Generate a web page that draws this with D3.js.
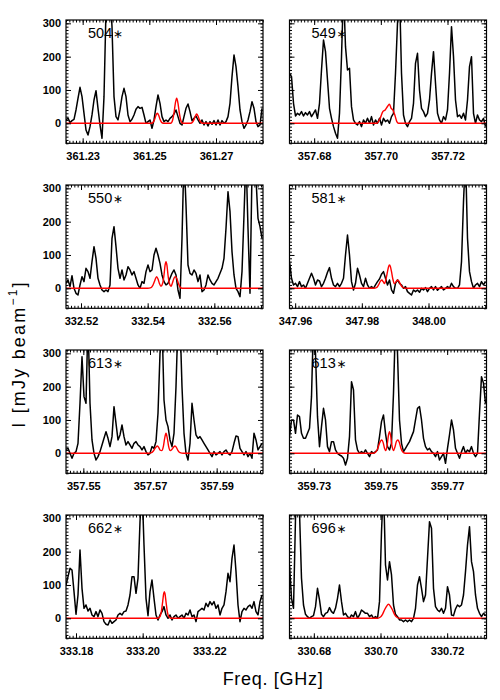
<!DOCTYPE html>
<html><head><meta charset="utf-8">
<script src="https://cdn.jsdelivr.net/npm/d3@7/dist/d3.min.js"></script>
<style>body{margin:0;background:#fff}</style>
</head><body><svg id="c" width="500" height="700"></svg>
<script>
// ---------- DATA ----------
const panelIds = ["504","549","550","581","613","613","662","696"];
const startFreq = [361.2250, 357.6726, 332.5155, 347.9583, 357.5448, 359.7227, 333.1770, 330.6727];
const chanWidth = 0.0006;      // GHz per channel
const spanGHz = 0.0591;        // frequency window of each panel
const yDomain = [-60, 310];
const yTicks = [0, 100, 200, 300];
const xTicks = [
  [361.23, 361.25, 361.27],
  [357.68, 357.70, 357.72],
  [332.52, 332.54, 332.56],
  [347.96, 347.98, 348.00],
  [357.55, 357.57, 357.59],
  [359.73, 359.75, 359.77],
  [333.18, 333.20, 333.22],
  [330.68, 330.70, 330.72]
];

const spec504 = [10,16,2,8,12,40,75,108,80,30,-20,-35,-10,25,70,98,45,-5,-45,80,340,400,400,290,80,20,10,40,80,105,80,25,5,12,25,42,50,45,48,25,0,5,10,-15,10,50,85,60,20,5,10,5,15,20,28,40,20,0,-5,20,45,58,35,8,15,22,10,0,10,-5,5,-8,5,-3,8,-5,10,-5,8,0,5,20,60,140,205,170,110,40,5,-15,-5,10,35,65,45,5,-10,-5,45];
const spec549 = [150,140,60,22,30,25,35,22,32,25,35,20,30,40,15,60,160,250,215,130,45,15,-10,-30,-45,30,200,400,230,160,165,50,10,0,-5,5,-10,10,0,15,0,20,-5,10,0,15,-5,15,5,10,0,20,30,150,300,400,150,25,0,-10,5,15,60,180,210,100,45,35,20,30,70,150,215,120,30,10,0,20,10,40,150,290,200,70,20,25,15,30,10,70,170,200,30,0,25,10,5,15,-10];
const spec550 = [15,25,5,38,0,-15,-20,10,35,20,60,50,30,80,125,90,30,10,-5,-10,-5,-10,10,150,185,125,60,30,55,25,40,65,55,40,50,30,10,0,20,15,50,70,50,55,100,120,100,75,40,20,10,15,30,45,55,40,-5,-30,150,400,250,70,45,40,55,45,20,40,-10,-5,10,40,25,15,10,20,30,45,60,90,180,290,230,110,40,0,-10,-25,50,220,400,180,-15,350,400,330,210,185,150];
const spec581 = [80,30,10,15,5,20,5,10,0,15,30,45,30,10,25,22,5,15,30,48,62,30,10,5,15,5,15,30,100,160,100,20,-5,15,60,40,15,5,30,10,0,5,0,10,20,28,42,50,30,10,25,-5,-15,15,25,15,10,0,5,-10,-15,-20,-5,-10,-5,-12,0,-5,2,-10,0,5,-5,5,-6,0,5,-5,0,5,0,15,5,0,0,10,80,260,400,150,50,20,0,10,15,5,20,10,20];
const spec613a = [12,15,0,-15,0,5,30,150,290,170,150,400,150,40,0,-20,-10,5,25,45,65,45,20,50,140,90,40,55,85,50,25,35,25,15,30,35,25,20,10,20,5,-5,0,20,15,35,120,300,400,160,100,80,40,20,60,200,400,400,200,60,0,-20,30,150,100,55,45,50,40,30,20,10,0,-10,5,-5,0,5,-5,5,10,0,-5,5,30,52,50,15,5,-5,5,-10,0,-15,60,40,10,20,30];
const spec613b = [50,100,100,60,115,110,60,45,45,60,75,170,400,300,110,20,80,135,100,20,5,35,35,10,0,-5,-8,-15,-35,-15,50,215,190,40,10,0,5,0,10,0,-10,5,0,5,10,50,95,115,60,20,10,30,180,400,300,100,30,5,15,25,35,50,65,100,135,140,100,45,20,10,15,5,0,-10,5,-20,-10,0,-30,15,55,100,70,15,0,-15,5,20,0,10,5,20,0,-10,0,120,230,210,150];
const spec662 = [100,125,150,145,80,12,70,205,90,30,40,22,30,10,5,20,5,25,15,-10,-18,-20,-5,-15,-10,-5,10,15,10,20,22,40,70,125,125,75,120,290,400,220,60,8,80,115,60,10,-5,10,20,35,10,0,10,-5,5,10,0,5,10,0,15,10,25,5,10,-10,20,25,30,25,45,35,50,40,50,30,40,10,30,40,80,135,110,180,220,140,40,-10,20,30,25,35,40,30,50,20,10,50,70];
const spec696 = [160,60,30,300,400,320,120,40,12,5,0,5,8,35,90,55,12,5,15,18,32,20,15,30,60,100,50,10,15,5,0,10,5,20,0,10,25,20,15,15,5,10,0,5,0,50,260,400,160,115,170,130,40,12,5,-5,-5,-10,-5,-10,-5,-10,0,30,100,125,90,50,70,180,290,270,90,35,25,20,30,15,30,95,70,10,8,28,40,35,40,70,140,220,275,170,140,70,30,15,5,15,10];

// red model profiles [freq GHz, mJy/beam]; zero elsewhere
const model504 = [[361.2506,0],[361.2512,4],[361.2516,12],[361.2520,24],[361.2524,30],[361.2528,24],[361.2532,12],[361.2536,4],[361.2542,0],
  [361.2564,0],[361.2570,10],[361.2574,31],[361.2578,60],[361.2582,75],[361.2586,60],[361.2590,31],[361.2594,10],[361.2600,0],
  [361.2624,0],[361.2630,4],[361.2634,11],[361.2638,22],[361.2642,28],[361.2646,22],[361.2650,11],[361.2654,4],[361.2660,0]];
const model549 = [[357.6988,0],[357.6998,15],[357.7006,35],[357.7013,40],[357.7021,52],[357.7026,57],[357.7031,45],[357.7036,40],[357.7042,25],[357.7048,5],[357.7053,0]];
const model550 = [[332.5400,0],[332.5410,2],[332.5415,8],[332.5420,20],[332.5424,30],[332.5427,35],[332.5431,28],[332.5435,15],[332.5440,6],[332.5445,15],[332.5449,40],[332.5452,68],[332.5455,80],[332.5458,68],[332.5461,40],[332.5465,15],[332.5470,6],[332.5474,15],[332.5478,28],[332.5481,34],[332.5484,35],[332.5488,28],[332.5492,15],[332.5497,4],[332.5503,0]];
const model581 = [[347.9835,0],[347.9845,3],[347.9850,10],[347.9855,20],[347.9860,25],[347.9864,20],[347.9868,14],[347.9873,30],[347.9877,50],[347.9880,64],[347.9883,70],[347.9886,64],[347.9889,50],[347.9893,28],[347.9898,14],[347.9903,20],[347.9908,25],[347.9912,20],[347.9917,10],[347.9922,3],[347.9930,0]];
const model613a = [[357.5695,0],[357.5705,2],[357.5710,7],[357.5715,15],[357.5719,20],[357.5722,22],[357.5726,18],[357.5730,10],[357.5735,8],[357.5740,20],[357.5744,45],[357.5748,60],[357.5752,45],[357.5756,20],[357.5761,8],[357.5766,12],[357.5771,19],[357.5775,22],[357.5779,18],[357.5784,8],[357.5790,2],[357.5800,0]];
const model613b = [[359.7475,0],[359.7485,3],[359.7492,15],[359.7497,30],[359.7501,38],[359.7504,40],[359.7508,32],[359.7512,15],[359.7516,8],[359.7520,25],[359.7524,55],[359.7527,65],[359.7530,55],[359.7534,25],[359.7539,8],[359.7543,18],[359.7548,36],[359.7552,40],[359.7556,34],[359.7561,16],[359.7567,4],[359.7575,0]];
const model662 = [[333.2045,0],[333.2052,5],[333.2056,20],[333.2060,50],[333.2063,74],[333.2065,80],[333.2067,74],[333.2070,50],[333.2074,20],[333.2078,5],[333.2085,0]];
const model696 = [[330.6990,0],[330.7000,4],[330.7006,12],[330.7012,25],[330.7018,36],[330.7024,42],[330.7030,36],[330.7036,25],[330.7042,12],[330.7048,4],[330.7058,0]];

const specs = [spec504, spec549, spec550, spec581, spec613a, spec613b, spec662, spec696];
const models = [model504, model549, model550, model581, model613a, model613b, model662, model696];

// ---------- LAYOUT ----------
const W = 197, H = 123.3;
const colX = [66, 289.5], rowY = [20, 185, 350, 515];
const majorLen = 5, minorLen = 2.5;
const tickFont = '"Liberation Sans", Arial, Helvetica, sans-serif';

const svg = d3.select("#c");

function styleAxis(sel) {
  sel.select(".domain").remove();
  sel.selectAll("line").attr("stroke", "#000").attr("stroke-width", 1);
  sel.selectAll("text").attr("font-family", tickFont).attr("font-weight", "bold")
     .attr("font-size", 11).attr("fill", "#000");
}

panelIds.forEach((id, i) => {
  const c = i % 2, r = Math.floor(i / 2);
  const g = svg.append("g").attr("transform", `translate(${colX[c]},${rowY[r]})`);
  const x = d3.scaleLinear().domain([startFreq[i], startFreq[i] + spanGHz]).range([0, W]);
  const y = d3.scaleLinear().domain(yDomain).range([H, 0]);

  const cid = "clip" + i;
  g.append("clipPath").attr("id", cid).append("rect").attr("width", W).attr("height", H);

  const line = d3.line().x(d => x(d[0])).y(d => y(d[1]));
  const pts = specs[i].map((v, k) => [startFreq[i] + k * chanWidth, v]);
  g.append("path").datum(pts).attr("clip-path", `url(#${cid})`)
    .attr("d", line).attr("fill", "none").attr("stroke", "#000")
    .attr("stroke-width", 1.5).attr("stroke-linejoin", "round");

  const mod = [[x.domain()[0], 0], ...models[i], [x.domain()[1], 0]];
  g.append("path").datum(mod).attr("clip-path", `url(#${cid})`)
    .attr("d", d3.line().x(d => x(d[0])).y(d => y(d[1])).curve(d3.curveMonotoneX))
    .attr("fill", "none").attr("stroke", "#ff0000").attr("stroke-width", 1.4);

  const minorX = x.ticks(59), minorY = y.ticks(37);
  // bottom
  g.append("g").attr("transform", `translate(0,${H})`)
    .call(d3.axisBottom(x).tickValues(minorX).tickSizeInner(-minorLen).tickSizeOuter(0).tickFormat(""))
    .call(styleAxis);
  g.append("g").attr("transform", `translate(0,${H})`)
    .call(d3.axisBottom(x).tickValues(xTicks[i]).tickSizeInner(-majorLen).tickSizeOuter(0)
      .tickPadding(8.5).tickFormat(d3.format(".2f")))
    .call(styleAxis);
  // top
  g.append("g")
    .call(d3.axisTop(x).tickValues(minorX).tickSizeInner(-minorLen).tickSizeOuter(0).tickFormat(""))
    .call(styleAxis);
  g.append("g")
    .call(d3.axisTop(x).tickValues(xTicks[i]).tickSizeInner(-majorLen).tickSizeOuter(0).tickFormat(""))
    .call(styleAxis);
  // left
  g.append("g")
    .call(d3.axisLeft(y).tickValues(minorY).tickSizeInner(-minorLen).tickSizeOuter(0).tickFormat(""))
    .call(styleAxis);
  g.append("g")
    .call(d3.axisLeft(y).tickValues(yTicks).tickSizeInner(-majorLen).tickSizeOuter(0)
      .tickPadding(5).tickFormat(c === 0 ? d3.format("d") : ""))
    .call(styleAxis);
  // right
  g.append("g").attr("transform", `translate(${W},0)`)
    .call(d3.axisRight(y).tickValues(minorY).tickSizeInner(-minorLen).tickSizeOuter(0).tickFormat(""))
    .call(styleAxis);
  g.append("g").attr("transform", `translate(${W},0)`)
    .call(d3.axisRight(y).tickValues(yTicks).tickSizeInner(-majorLen).tickSizeOuter(0).tickFormat(""))
    .call(styleAxis);

  g.append("rect").attr("width", W).attr("height", H).attr("fill", "none")
    .attr("stroke", "#000").attr("stroke-width", 1.2);

  const lab = g.append("text").attr("x", 22).attr("y", 17.5)
    .attr("font-family", tickFont).attr("font-size", 14.5).attr("fill", "#000");
  lab.append("tspan").text(id);
  lab.append("tspan").attr("font-family", '"DejaVu Sans", sans-serif').attr("font-size", 12).attr("dx", 0.5).text("∗");
});

// axis titles
const yl = svg.append("text").attr("transform", "translate(25,354) rotate(-90)")
  .attr("text-anchor", "middle").attr("font-family", tickFont).attr("font-size", 18)
  .attr("letter-spacing", 2.2).attr("fill", "#000");
yl.append("tspan").text("I [mJy beam");
yl.append("tspan").attr("font-size", 12).attr("dy", -8).text("−1");
yl.append("tspan").attr("dy", 8).text("]");

svg.append("text").attr("x", 273).attr("y", 685).attr("text-anchor", "middle")
  .attr("font-family", tickFont).attr("font-size", 18).attr("letter-spacing", 0.7)
  .attr("fill", "#000").text("Freq. [GHz]");
</script>
</body></html>
